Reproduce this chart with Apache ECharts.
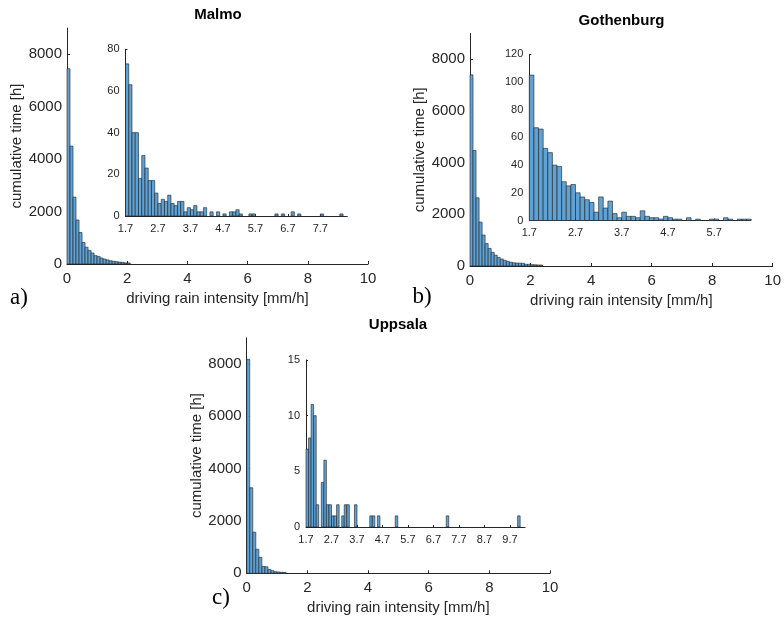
<!DOCTYPE html>
<html>
<head>
<meta charset="utf-8">
<script src="https://cdn.jsdelivr.net/npm/echarts@6/dist/echarts.min.js"></script>
<style>
  html, body { margin: 0; padding: 0; background: #fff; }
  #chart { width: 784px; height: 619px; }
</style>
</head>
<body>
<div id="chart"></div>
<script>
// Histogram bin width [mm/h]
const BIN = 0.1;

// Full-range histograms: bins from 0 to 1.6 mm/h (hours per bin)
const malmoLow = [7450, 4500, 2550, 1680, 1200, 820, 640, 520, 420, 320, 290, 230, 190, 155, 125, 105, 90];
const gothenburgLow = [7400, 4470, 2640, 1700, 1200, 870, 680, 530, 420, 330, 270, 220, 180, 145, 125, 115, 110];
const uppsalaLow = [8180, 3270, 1570, 920, 610, 260, 250, 150, 100, 60, 50, 40, 35, 20, 15, 12, 9];

// Tail histograms: bins from 1.7 mm/h upwards (hours per bin)
const TAIL_START = 1.7;
const malmoTail = [73, 63, 40, 40, 18, 29, 23, 17, 17, 11,
                   6, 8, 7, 10, 6, 5, 7, 7, 2, 4,
                   3, 5, 2, 2, 4, 0, 2, 0, 2, 0,
                   1, 0, 2, 2, 3, 1, 0, 0, 1, 1,
                   0, 0, 0, 0, 0, 0, 1, 0, 1, 0,
                   0, 2, 0, 1, 0, 0, 0, 0, 0, 0,
                   1, 0, 0, 0, 0, 0, 1];
const gothenburgTail = [105, 67, 66, 52, 49, 40, 39, 28, 25, 26,
                        20, 17, 15, 13, 6, 17, 9, 14, 5, 2,
                        6, 3, 3, 2, 7, 3, 2, 2, 1, 3,
                        2, 1, 1, 0, 2, 0, 1, 0, 0, 1,
                        1, 0, 2, 1, 0, 1, 1, 1];
const uppsalaTail = [7, 8, 11, 10, 2, 0, 4, 6, 2, 2,
                     1, 1, 2, 0, 1, 2, 2, 0, 0, 2,
                     0, 0, 0, 0, 0, 1, 1, 0, 1, 0,
                     0, 0, 0, 0, 0, 1, 0, 0, 0, 0,
                     0, 0, 0, 0, 0, 0, 0, 0, 0, 0,
                     0, 0, 0, 0, 0, 1, 0, 0, 0, 0,
                     0, 0, 0, 0, 0, 0, 0, 0, 0, 0,
                     0, 0, 0, 0, 0, 0, 0, 0, 0, 0,
                     0, 0, 0, 1];

// Axis ticks
const mainXTicks = [0, 2, 4, 6, 8, 10];
const mainYTicks = [0, 2000, 4000, 6000, 8000];
const malmoTailXTicks = [1.7, 2.7, 3.7, 4.7, 5.7, 6.7, 7.7];
const malmoTailYTicks = [0, 20, 40, 60, 80];
const gothenburgTailXTicks = [1.7, 2.7, 3.7, 4.7, 5.7];
const gothenburgTailYTicks = [0, 20, 40, 60, 80, 100, 120];
const uppsalaTailXTicks = [1.7, 2.7, 3.7, 4.7, 5.7, 6.7, 7.7, 8.7, 9.7];
const uppsalaTailYTicks = [0, 5, 10, 15];

const cityNames = ['Malmo', 'Gothenburg', 'Uppsala'];
const panelLetters = ['a)', 'b)', 'c)'];
const xTitle = 'driving rain intensity [mm/h]';
const yTitle = 'cumulative time [h]';

const SANS = '"Liberation Sans", Arial, Helvetica, sans-serif';
const AXIS_COLOR = '#262626';
const FACE = '#5fa2d5';
const EDGE = '#1e1e1e';

// bins -> [[leftEdge, value], ...]
function toBins(values, start) {
  return values.map((v, i) => [Math.round((start + i * BIN) * 100) / 100, v]);
}

// histogram bars: each bin spans [edge, edge + BIN] on the value axis
function renderBar(params, api) {
  const x0 = api.value(0);
  const v = api.value(1);
  if (!(v > 0)) return;
  const top = api.coord([x0, v]);
  const base = api.coord([x0 + BIN, 0]);
  const h = base[1] - top[1];
  if (h < 0.8) return; // sub-pixel bars vanish into the axis line
  return {
    type: 'rect',
    shape: { x: top[0], y: top[1], width: base[0] - top[0], height: h },
    style: { fill: FACE, stroke: EDGE, lineWidth: 0.6 }
  };
}

// panel layout (pixels)
const mainGrids = [
  { left: 67, top: 28.1, width: 301, height: 235.9 },
  { left: 470, top: 33.5, width: 303.3, height: 232.5 },
  { left: 246.7, top: 337.8, width: 303.3, height: 235.5 }
];
const tailGrids = [
  { left: 125.5, top: 49.3, width: 221.8, height: 166.7 },
  { left: 529.3, top: 54.3, width: 221.4, height: 166.2 },
  { left: 306, top: 360, width: 219, height: 167 }
];
const tailXMax = [8.53, 6.49, 10.29];
const tailYMax = [80, 120, 15];
const tailXTicks = [malmoTailXTicks, gothenburgTailXTicks, uppsalaTailXTicks];
const tailYTicks = [malmoTailYTicks, gothenburgTailYTicks, uppsalaTailYTicks];
const lows = [malmoLow, gothenburgLow, uppsalaLow];
const tails = [malmoTail, gothenburgTail, uppsalaTail];

function axisCommon(fontSize) {
  return {
    axisLine: { show: true, onZero: false, lineStyle: { color: AXIS_COLOR, width: 1 } },
    axisTick: { show: true, inside: true, length: 3, lineStyle: { color: AXIS_COLOR, width: 1 } },
    axisLabel: { color: AXIS_COLOR, fontFamily: SANS, fontSize: fontSize },
    splitLine: { show: false }
  };
}

const grid = [];
const xAxis = [];
const yAxis = [];
const series = [];

for (let p = 0; p < 3; p++) {
  // main histogram
  grid.push(mainGrids[p]);
  const mx = axisCommon(15);
  xAxis.push(Object.assign(mx, {
    type: 'value', gridIndex: 2 * p, min: 0, max: 10,
    name: xTitle, nameLocation: 'middle', nameGap: 27,
    nameTextStyle: { color: AXIS_COLOR, fontFamily: SANS, fontSize: 15 },
    axisTick: Object.assign(mx.axisTick, { customValues: mainXTicks }),
    axisLabel: Object.assign(mx.axisLabel, { customValues: mainXTicks, margin: 7, formatter: v => String(v) })
  }));
  const my = axisCommon(15);
  yAxis.push(Object.assign(my, {
    type: 'value', gridIndex: 2 * p, min: 0, max: 9000,
    name: yTitle, nameLocation: 'middle', nameGap: 42, nameRotate: 90,
    nameTextStyle: { color: AXIS_COLOR, fontFamily: SANS, fontSize: 15 },
    axisTick: Object.assign(my.axisTick, { customValues: mainYTicks }),
    axisLabel: Object.assign(my.axisLabel, { customValues: mainYTicks, margin: 5, formatter: v => String(v) })
  }));
  series.push({
    type: 'custom', xAxisIndex: 2 * p, yAxisIndex: 2 * p,
    renderItem: renderBar, encode: { x: 0, y: 1 }, silent: true,
    data: toBins(lows[p].concat(tails[p]), 0)
  });

  // tail histogram (inset)
  grid.push(tailGrids[p]);
  const ix = axisCommon(11);
  xAxis.push(Object.assign(ix, {
    type: 'value', gridIndex: 2 * p + 1, min: TAIL_START, max: tailXMax[p],
    axisTick: Object.assign(ix.axisTick, { customValues: tailXTicks[p], length: 2 }),
    axisLabel: Object.assign(ix.axisLabel, { customValues: tailXTicks[p], margin: 7, formatter: v => v.toFixed(1) })
  }));
  const iy = axisCommon(11);
  yAxis.push(Object.assign(iy, {
    type: 'value', gridIndex: 2 * p + 1, min: 0, max: tailYMax[p],
    axisTick: Object.assign(iy.axisTick, { customValues: tailYTicks[p], length: 2 }),
    axisLabel: Object.assign(iy.axisLabel, { customValues: tailYTicks[p], margin: 6, formatter: v => String(v) })
  }));
  series.push({
    type: 'custom', xAxisIndex: 2 * p + 1, yAxisIndex: 2 * p + 1,
    renderItem: renderBar, encode: { x: 0, y: 1 }, silent: true,
    data: toBins(tails[p], TAIL_START)
  });
}

// panel titles and letters
const titlePos = [[218, 15], [621.5, 20.5], [398, 325]];
const letterPos = [[19, 298], [422, 297], [221, 598]];
const graphic = [];
for (let p = 0; p < 3; p++) {
  graphic.push({
    type: 'text', x: titlePos[p][0], y: titlePos[p][1],
    style: { text: cityNames[p], fill: '#000', font: 'bold 15px ' + SANS, textAlign: 'center', textVerticalAlign: 'middle' }
  });
  graphic.push({
    type: 'text', x: letterPos[p][0], y: letterPos[p][1],
    style: { text: panelLetters[p], fill: '#000', font: '23px "Liberation Serif", "Times New Roman", serif', textAlign: 'center', textVerticalAlign: 'middle' }
  });
}

const chart = echarts.init(document.getElementById('chart'), null, { renderer: 'canvas' });
chart.setOption({
  animation: false,
  backgroundColor: '#fff',
  grid: grid,
  xAxis: xAxis,
  yAxis: yAxis,
  series: series,
  graphic: graphic
});
</script>
</body>
</html>
